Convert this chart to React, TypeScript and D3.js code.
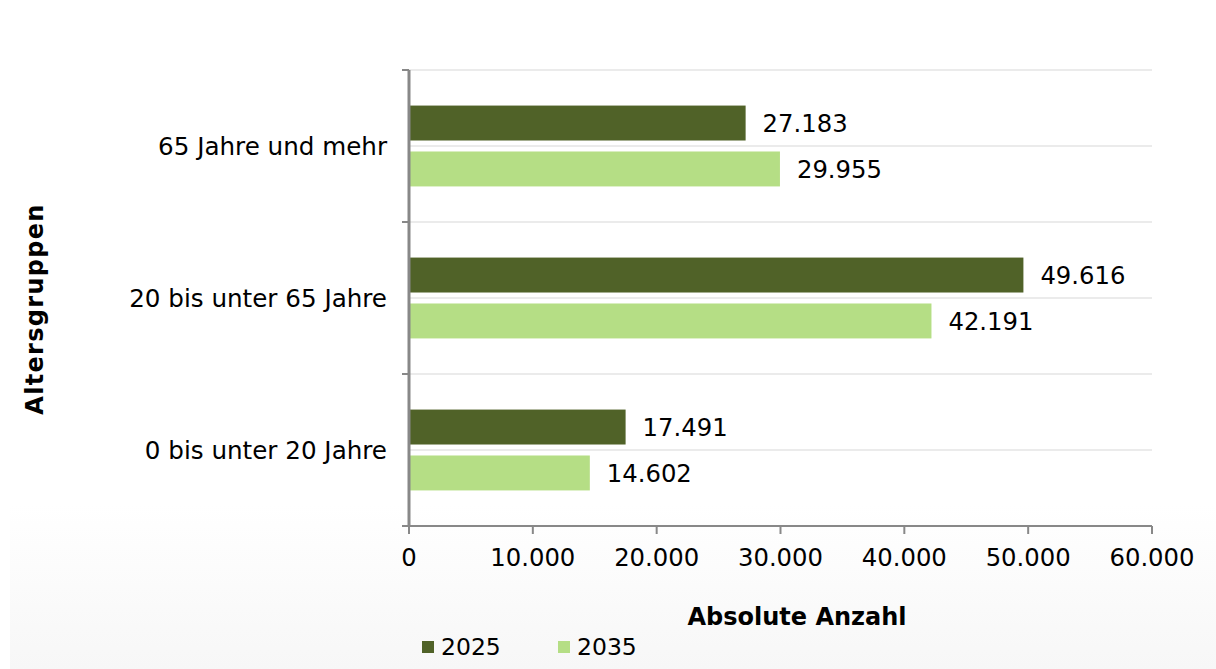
import * as d3 from "d3";

const categories = ["65 Jahre und mehr", "20 bis unter 65 Jahre", "0 bis unter 20 Jahre"];
const seriesNames = ["2025", "2035"];
const values2025 = [27183, 49616, 17491];
const values2035 = [29955, 42191, 14602];
const xTicks = [0, 10000, 20000, 30000, 40000, 50000, 60000];
const colors = ["#506228", "#b5de85"];

const W = 1216;
const H = 669;
const FONT = "Verdana, 'DejaVu Sans', sans-serif";

const fmt = (v: number) => d3.format(",")(v).replace(/,/g, ".");

export default function App() {
  const left = 409;
  const right = 1152;
  const top = 70;
  const bottom = 526;

  const x = d3.scaleLinear().domain([0, 60000]).range([left, right]);
  const y = d3.scaleBand<string>().domain(categories).range([top, bottom]);
  const inner = d3.scaleBand<string>().domain(seriesNames).range([-0.266, 0.266]).paddingInner(0.239);

  const series = [values2025, values2035];
  const bw = y.bandwidth();
  const barH = inner.bandwidth() * bw;

  // gridlines at category boundaries and middles
  const grid: number[] = [];
  categories.forEach((c) => {
    grid.push(y(c)!);
    grid.push(y(c)! + bw / 2);
  });

  return (
    <svg width={W} height={H} style={{ position: "absolute", left: 0, top: 0, background: "#fff" }} fontFamily={FONT}>
      <defs>
        <linearGradient id="bg" x1="0" y1="0" x2="0" y2="1">
          <stop offset="0" stopColor="#ffffff" />
          <stop offset="1" stopColor="#f7f7f7" />
        </linearGradient>
      </defs>
      <rect x={10} y={505} width={W - 10} height={H - 505} fill="url(#bg)" />

      {grid.map((g, i) => (
        <line key={i} x1={left} x2={right} y1={g} y2={g} stroke="#ebebeb" strokeWidth={2} />
      ))}

      {categories.map((c, ci) =>
        seriesNames.map((s, si) => {
          const v = series[si][ci];
          const yy = y(c)! + bw / 2 + inner(s)! * bw;
          return (
            <g key={c + s}>
              <rect x={x(0)} y={yy} width={x(v) - x(0)} height={barH} fill={colors[si]} />
              <text x={x(v) + 17} y={yy + barH / 2} dy="0.36em" fontSize={24.3} fill="#000">
                {fmt(v)}
              </text>
            </g>
          );
        })
      )}

      {/* y axis */}
      <line x1={left} x2={left} y1={top} y2={bottom} stroke="#888" strokeWidth={3} />
      {[top, ...categories.map((c) => y(c)! + bw)].map((t, i) => (
        <line key={i} x1={left - 7} x2={left} y1={t} y2={t} stroke="#888" strokeWidth={2} />
      ))}
      {categories.map((c) => (
        <text key={c} x={387} y={y(c)! + bw / 2} dy="0.36em" textAnchor="end" fontSize={24.6} fill="#000">
          {c}
        </text>
      ))}

      {/* x axis */}
      <line x1={left - 7} x2={right} y1={bottom} y2={bottom} stroke="#888" strokeWidth={2} />
      {xTicks.map((t) => (
        <g key={t}>
          <line x1={x(t)} x2={x(t)} y1={bottom} y2={bottom + 8} stroke="#888" strokeWidth={2} />
          <text x={x(t)} y={566} textAnchor="middle" fontSize={24.3} fill="#000">
            {fmt(t)}
          </text>
        </g>
      ))}

      <text x={797} y={625} textAnchor="middle" fontSize={24} fontWeight="bold" fill="#000">
        Absolute Anzahl
      </text>
      <text
        transform={`translate(43, ${309}) rotate(-90)`}
        textAnchor="middle"
        fontSize={24}
        letterSpacing={1.3}
        fontWeight="bold"
        fill="#000"
      >
        Altersgruppen
      </text>

      {/* legend */}
      {seriesNames.map((s, i) => (
        <g key={s} transform={`translate(${422 + i * 136}, 0)`}>
          <rect x={0} y={641} width={12} height={12} fill={colors[i]} />
          <text x={19} y={655} fontSize={23.5} fill="#000">
            {s}
          </text>
        </g>
      ))}
    </svg>
  );
}
